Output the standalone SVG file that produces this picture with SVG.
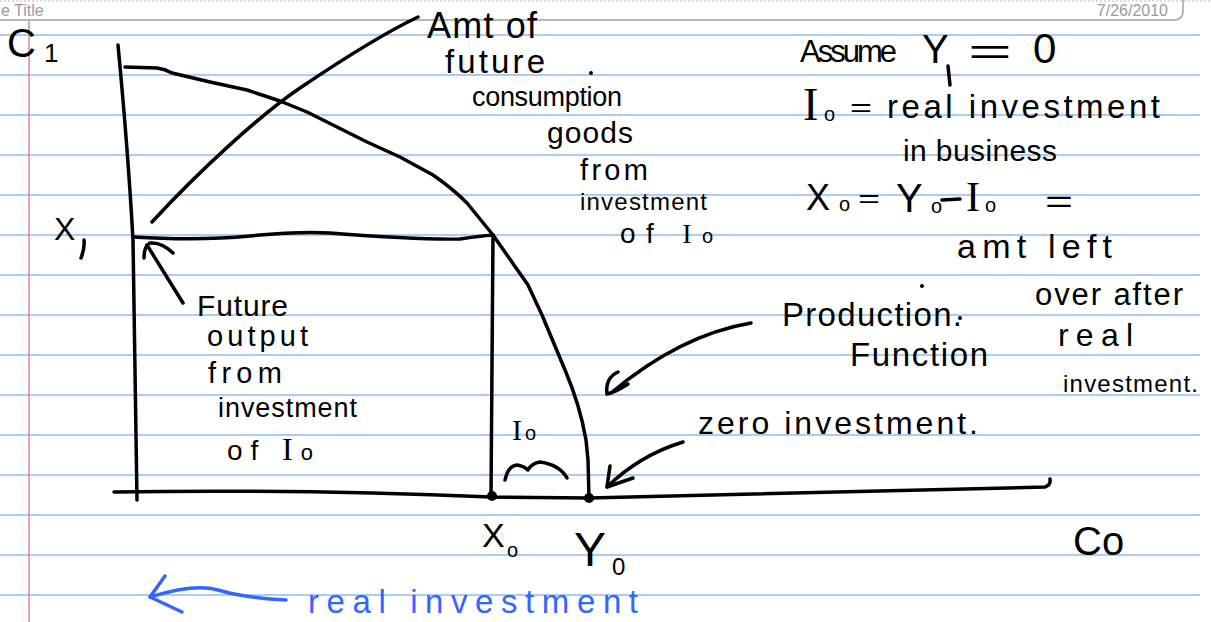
<svg xmlns="http://www.w3.org/2000/svg" width="1211" height="622" viewBox="0 0 1211 622">
<defs>
<style>
.rule{stroke:#a9cdf3;stroke-width:2}
.ink{fill:none;stroke:#000;stroke-width:3.5;stroke-linecap:round;stroke-linejoin:round}
.blueink{fill:none;stroke:#3366ff;stroke-width:3.5;stroke-linecap:round;stroke-linejoin:round}
.t{font-family:"Liberation Sans",Arial,sans-serif;fill:#000}
.s{font-family:"Liberation Serif","Times New Roman",serif}
.h{font-family:"Liberation Sans",Arial,sans-serif;fill:#9a9a9a;font-size:16px}
</style>
</defs>
<rect width="1211" height="622" fill="#fff"/>
<g id="paper">
<line x1="0" y1="1" x2="1211" y2="1" stroke="#bbb" stroke-width="1" stroke-dasharray="2,2"/>
<path d="M0,20 L1174,20 Q1183,20 1183,11 L1183,0" fill="none" stroke="#a0a0a0" stroke-width="1.5"/>
<text class="h" x="1" y="16">e Title</text>
<text class="h" x="1168" y="16" text-anchor="end">7/26/2010</text>
<line class="rule" x1="0" y1="35" x2="1200" y2="35"/>
<line class="rule" x1="0" y1="75" x2="1200" y2="75"/>
<line class="rule" x1="0" y1="115" x2="1200" y2="115"/>
<line class="rule" x1="0" y1="155" x2="1200" y2="155"/>
<line class="rule" x1="0" y1="195" x2="1200" y2="195"/>
<line class="rule" x1="0" y1="235" x2="1200" y2="235"/>
<line class="rule" x1="0" y1="275" x2="1200" y2="275"/>
<line class="rule" x1="0" y1="315" x2="1200" y2="315"/>
<line class="rule" x1="0" y1="355" x2="1200" y2="355"/>
<line class="rule" x1="0" y1="395" x2="1200" y2="395"/>
<line class="rule" x1="0" y1="435" x2="1200" y2="435"/>
<line class="rule" x1="0" y1="475" x2="1200" y2="475"/>
<line class="rule" x1="0" y1="515" x2="1200" y2="515"/>
<line class="rule" x1="0" y1="555" x2="1200" y2="555"/>
<line class="rule" x1="0" y1="595" x2="1200" y2="595"/>
<line x1="29" y1="21" x2="29" y2="622" stroke="#d48a9a" stroke-width="1.5"/>
</g>
<g id="axes">
<path class="ink" d="M118,45 Q128,150 133,240 L137,500"/>
<path class="ink" d="M114,492 Q300,489 491,497 L589,498 Q800,492 1045,487 Q1051,485 1050,479"/>
<text class="t" x="7" y="57" font-size="40">C</text>
<text class="t" x="44" y="62" font-size="26">1</text>
<text class="t" x="1073" y="555" font-size="40">Co</text>
</g>
<g id="production-curve">
<path class="ink" d="M125,67 L157,68 Q165,69 172,73 L210,82 L247,90 L280,101 L307,112 L347,132 L367,142 L400,157 L433,175 Q452,188 467,203 L493,235 Q512,262 528,285 L542,315 L565,370 Q580,405 586,440 L588,460 L589,498"/>
</g>
<g id="x1-level">
<path class="ink" d="M133,237 Q200,241 250,236 Q300,231 330,233 Q420,240 460,239 Q480,236 493,235"/>
<text class="t" x="54" y="240" font-size="32">X</text>
<path class="ink" d="M84,240 Q85,248 81,258"/>
</g>
<g id="x0-line">
<path class="ink" d="M493,235 L491,497"/>
<circle cx="492" cy="496" r="5" fill="#000"/>
<text class="t" x="482" y="547" font-size="34">X</text>
<text class="t" x="507" y="557" font-size="20">o</text>
</g>
<g id="y0-point">
<circle cx="589" cy="498" r="5" fill="#000"/>
<text class="t" x="574" y="566" font-size="48">Y</text>
<text class="t" x="612" y="575" font-size="24">0</text>
</g>
<g id="i0-gap">
<text class="t" x="512" y="440" font-size="26"><tspan class="s" font-size="30">I</tspan><tspan dx="3" font-size="20">o</tspan></text>
<path class="ink" d="M505,480 Q508,466 517,465 Q524,466 528,470 Q532,463 540,462 Q560,465 567,478"/>
</g>
<g id="label-amt-future">
<text class="t" x="427" y="38" font-size="36" textLength="110">Amt of</text>
<text class="t" x="445" y="73" font-size="33" textLength="100">future</text>
<circle cx="591" cy="73" r="2" fill="#000"/>
<text class="t" x="472" y="106" font-size="27" textLength="150">consumption</text>
<text class="t" x="547" y="143" font-size="30" textLength="86">goods</text>
<text class="t" x="580" y="180" font-size="29" textLength="68">from</text>
<text class="t" x="580" y="210" font-size="24" textLength="127">investment</text>
<text class="t" x="620" y="243" font-size="28" textLength="93">of <tspan class="s" font-size="28">I</tspan><tspan font-size="20">o</tspan></text>
</g>
<g id="label-future-output">
<text class="t" x="197" y="316" font-size="30" textLength="91">Future</text>
<text class="t" x="207" y="346" font-size="29" textLength="101">output</text>
<text class="t" x="208" y="383" font-size="29" textLength="74">from</text>
<text class="t" x="218" y="417" font-size="27" textLength="139">investment</text>
<text class="t" x="227" y="460" font-size="28" textLength="86">of <tspan class="s" font-size="32">I</tspan><tspan font-size="22">o</tspan></text>
</g>
<g id="label-production">
<circle cx="922" cy="286" r="2" fill="#000"/>
<text class="t" x="782" y="326" font-size="33" textLength="180">Production.</text>
<text class="t" x="850" y="366" font-size="33" textLength="138">Function</text>
<circle cx="960" cy="318" r="2" fill="#000"/>
</g>
<g id="label-zero">
<text class="t" x="698" y="434" font-size="32" textLength="280">zero investment.</text>
</g>
<g id="notes">
<text class="t" x="800" y="62" font-size="31" textLength="97">Assume</text>
<text class="t" x="922" y="63" font-size="40">Y</text>
<path class="ink" d="M948,66 Q949,76 950,85"/>
<text class="t" x="968" y="64" font-size="36" textLength="44" lengthAdjust="spacingAndGlyphs">=</text>
<text class="t" x="1033" y="63" font-size="42">0</text>
<text class="t s" x="803" y="120" font-size="46">I</text>
<text class="t" x="824" y="121" font-size="20">o</text>
<text class="t" x="850" y="116" font-size="26" textLength="22" lengthAdjust="spacingAndGlyphs">=</text>
<text class="t" x="887" y="118" font-size="33" textLength="273">real investment</text>
<text class="t" x="903" y="161" font-size="30" textLength="154">in business</text>
<text class="t" x="806" y="210" font-size="36">X</text>
<text class="t" x="839" y="211" font-size="20">o</text>
<text class="t" x="858" y="207" font-size="26" textLength="22" lengthAdjust="spacingAndGlyphs">=</text>
<text class="t" x="896" y="212" font-size="40">Y</text>
<text class="t" x="931" y="213" font-size="20">o</text>
<path class="ink" d="M942,200 L960,199"/>
<text class="t s" x="966" y="211" font-size="42">I</text>
<text class="t" x="985" y="212" font-size="20">o</text>
<text class="t" x="1045" y="212" font-size="32" textLength="28" lengthAdjust="spacingAndGlyphs">=</text>
<text class="t" x="957" y="258" font-size="34" textLength="155">amt left</text>
<text class="t" x="1035" y="305" font-size="31" textLength="148">over after</text>
<text class="t" x="1058" y="346" font-size="32" textLength="75">real</text>
<text class="t" x="1063" y="392" font-size="24" textLength="135">investment.</text>
</g>
<g id="real-investment-label">
<text x="308" y="613" font-family="Liberation Sans, Arial, sans-serif" font-size="33" fill="#3366ff" textLength="330">real investment</text>
</g>
<g id="connectors">
<path class="ink" d="M152,222 C200,170 260,115 300,88 S380,35 418,17"/>
<path class="ink" d="M183,303 L147,245"/>
<path class="ink" d="M144,258 Q144,246 150,243 Q162,242 173,253"/>
<path class="ink" d="M751,323 Q680,335 611,393"/>
<path class="ink" d="M618,372 Q605,378 607,394 Q616,392 628,384"/>
<path class="ink" d="M683,442 Q640,455 607,487"/>
<path class="ink" d="M610,466 L607,487 L633,478"/>
<path class="blueink" d="M286,600 Q245,598 218,590 Q195,583 150,597"/>
<path class="blueink" d="M165,576 L150,597 L182,612"/>
</g>
</svg>
